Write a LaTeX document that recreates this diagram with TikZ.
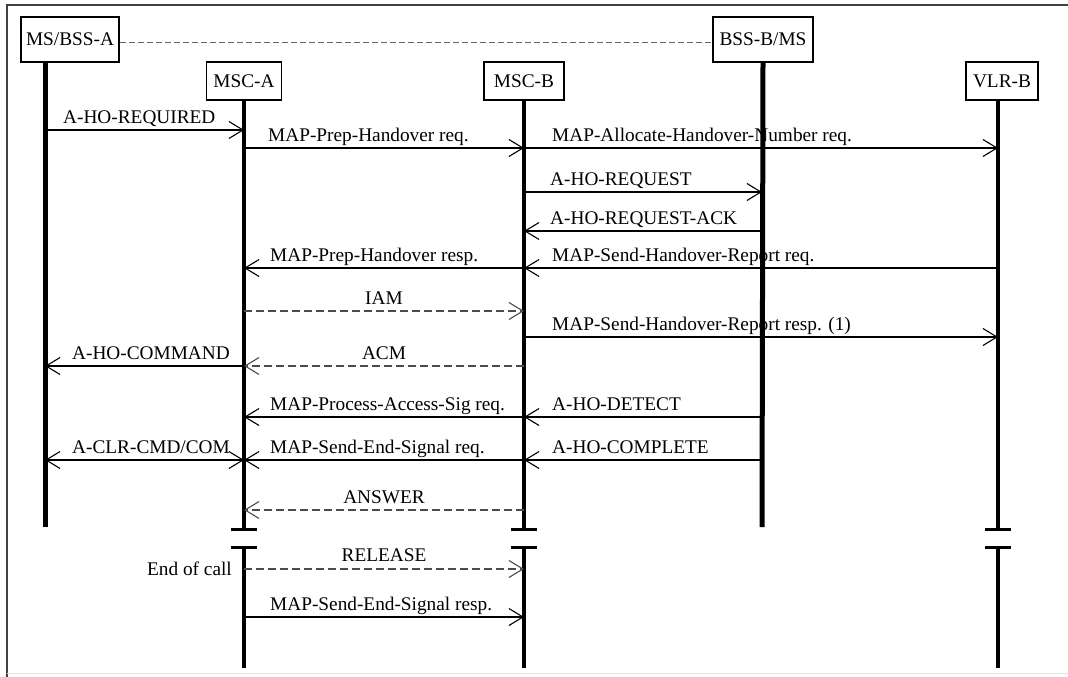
\documentclass[tikz,border=0pt]{standalone}
\usepackage{fontspec}
\setmainfont{Liberation Serif}
\usetikzlibrary{arrows.meta,calc}
\begin{document}
\begin{tikzpicture}[x=1pt,y=-1pt,
  every node/.style={font=\fontsize{19.3}{22}\selectfont, inner sep=0pt},
  box/.style={draw, line width=1.7pt, minimum height=38pt, fill=white},
  life/.style={line width=4pt},
  msg/.style={line width=1.3pt, -{Straight Barb[length=14pt,width=17pt,line width=1.1pt]}},
  dmsg/.style={msg, draw=black!70, line width=1.5pt, dash pattern=on 8pt off 4pt},
  lbl/.style={anchor=base west},
  clbl/.style={anchor=base},
  brk/.style={line width=3pt},
  frame/.style={line width=2.2pt, black!75}]
\useasboundingbox (0,0) rectangle (1068,677);
% frame
\draw[frame] (7,677) -- (7,5) -- (1068,5);
\draw[line width=1pt, black!12] (7,673) -- (1068,673);

% lifeline x positions
\coordinate (xA) at (45,0);
\coordinate (xMA) at (244,0);
\coordinate (xMB) at (524,0);
\coordinate (xB) at (762,0);
\coordinate (xV) at (998,0);

% boxes
\node[box, minimum width=98pt, minimum height=45pt] (msbss) at (70,39.5) {MS/BSS-A};
\node[box, minimum width=100pt, minimum height=45pt] (bssb) at (763,39.5) {BSS-B/MS};
\node[box, minimum width=75pt] (msca) at (244,81) {MSC-A};
\node[box, minimum width=80pt] (mscb) at (524,81) {MSC-B};
\node[box, minimum width=72pt] (vlrb) at (1002,81) {VLR-B};

\draw[line width=1.6pt, black!60, dash pattern=on 6pt off 3pt]
  ($(msbss.east)+(0,3)$) -- ($(bssb.west)+(0,3)$);

% labels
\node[lbl] (l1) at (63,123) {A-HO-REQUIRED};
\node[lbl] (l2) at (268,141) {MAP-Prep-Handover req.};
\node[lbl] (l3) at (552,141) {MAP-Allocate-Handover-Number req.};
\node[lbl] (l4) at (550,185) {A-HO-REQUEST};
\node[lbl] (l5) at (550,224) {A-HO-REQUEST-ACK};
\node[lbl] (l6) at (270,261) {MAP-Prep-Handover resp.};
\node[lbl] (l7) at (552,261) {MAP-Send-Handover-Report req.};
\node[clbl] (l8) at (384,304) {IAM};
\node[lbl] (l9) at (552,330) {MAP-Send-Handover-Report resp. (1)};
\node[lbl] (l10) at (72,359) {A-HO-COMMAND};
\node[clbl] (l11) at (384,359) {ACM};
\node[lbl] (l12) at (270,410) {MAP-Process-Access-Sig req.};
\node[lbl] (l13) at (552,410) {A-HO-DETECT};
\node[lbl] (l14) at (72,453) {A-CLR-CMD/COM};
\node[lbl] (l15) at (270,453) {MAP-Send-End-Signal req.};
\node[lbl] (l16) at (552,453) {A-HO-COMPLETE};
\node[clbl] (l17) at (384,503) {ANSWER};
\node[clbl] (l18) at (384,561) {RELEASE};
\node[anchor=base east] (l19) at (232,575) {End of call};
\node[lbl] (l20) at (270,610) {MAP-Send-End-Signal resp.};

% lifelines
\draw[line width=5pt] (45,62) -- (45,527);
\draw[line width=5pt] (bssb.south) -- ($(xB)+(0,527)$);
\draw[life] (msca.south) -- ($(xMA)+(0,529)$);
\draw[life] ($(xMA)+(0,547)$) -- ($(xMA)+(0,668)$);
\draw[life] (mscb.south) -- ($(xMB)+(0,529)$);
\draw[life] ($(xMB)+(0,547)$) -- ($(xMB)+(0,668)$);
\draw[life] (vlrb.south -| xV) -- ($(xV)+(0,529)$);
\draw[life] ($(xV)+(0,547)$) -- ($(xV)+(0,668)$);
% breaks
\foreach \c in {xMA,xMB,xV}{
  \draw[brk] ($(\c)+(-13,529)$) -- ($(\c)+(13,529)$);
  \draw[brk] ($(\c)+(-13,547)$) -- ($(\c)+(13,547)$);
}

% messages
\draw[msg] ($(xA)+(0,130)$) -- ($(xMA)+(0,130)$);
\draw[msg] ($(xMA)+(0,148)$) -- ($(xMB)+(0,148)$);
\draw[msg] ($(xMB)+(0,148)$) -- ($(xV)+(0,148)$);
\draw[msg] ($(xMB)+(0,192)$) -- ($(xB)+(0,192)$);
\draw[msg] ($(xB)+(0,231)$) -- ($(xMB)+(0,231)$);
\draw[msg] ($(xMB)+(0,268)$) -- ($(xMA)+(0,268)$);
\draw[msg] ($(xV)+(0,268)$) -- ($(xMB)+(0,268)$);
\draw[dmsg] ($(xMA)+(0,311)$) -- ($(xMB)+(0,311)$);
\draw[msg] ($(xMB)+(0,337)$) -- ($(xV)+(0,337)$);
\draw[msg] ($(xMA)+(0,366)$) -- ($(xA)+(0,366)$);
\draw[dmsg] ($(xMB)+(0,366)$) -- ($(xMA)+(0,366)$);
\draw[msg] ($(xMB)+(0,417)$) -- ($(xMA)+(0,417)$);
\draw[msg] ($(xB)+(0,417)$) -- ($(xMB)+(0,417)$);
\draw[msg, {Straight Barb[length=14pt,width=17pt,line width=1.1pt]}-{Straight Barb[length=14pt,width=17pt,line width=1.1pt]}] ($(xA)+(0,460)$) -- ($(xMA)+(0,460)$);
\draw[msg] ($(xMB)+(0,460)$) -- ($(xMA)+(0,460)$);
\draw[msg] ($(xB)+(0,460)$) -- ($(xMB)+(0,460)$);
\draw[dmsg] ($(xMB)+(0,510)$) -- ($(xMA)+(0,510)$);
\draw[dmsg] ($(xMA)+(0,569)$) -- ($(xMB)+(0,569)$);
\draw[msg] ($(xMA)+(0,617)$) -- ($(xMB)+(0,617)$);
\end{tikzpicture}
\end{document}
